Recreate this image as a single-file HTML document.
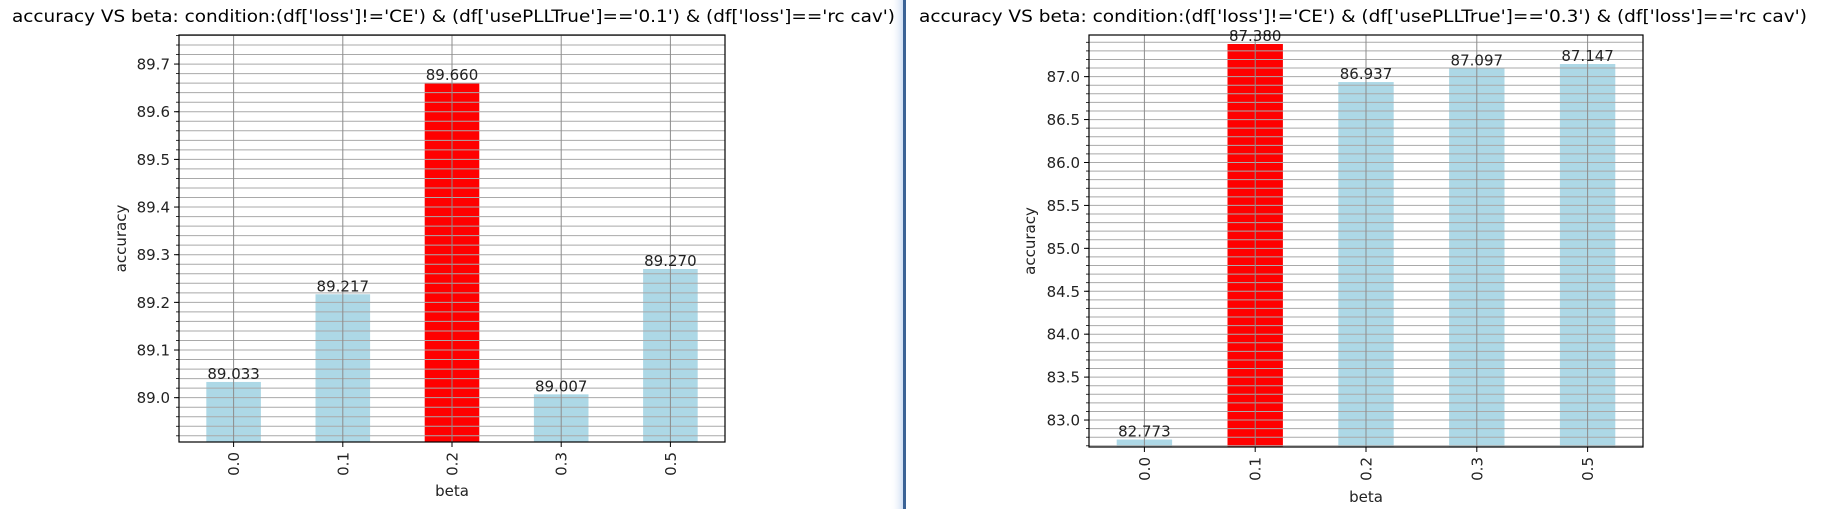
<!DOCTYPE html>
<html><head><meta charset="utf-8">
<style>
html,body{margin:0;padding:0;background:#fff;}
svg{display:block;font-family:"DejaVu Sans","Liberation Sans",sans-serif;}
</style></head>
<body>
<svg id="fig" width="1824" height="509" viewBox="0 0 1824 509" xmlns="http://www.w3.org/2000/svg">
<defs>
<linearGradient id="glow" x1="0" x2="1" y1="0" y2="0">
<stop offset="0" stop-color="#ffffff" stop-opacity="0"/>
<stop offset="1" stop-color="#c9daf2"/>
</linearGradient>
</defs>
<rect x="890" y="0" width="14" height="509" fill="url(#glow)"/>
<rect x="903" y="0" width="3" height="509" fill="#3b6396"/>
</svg>
<script>
const categoriesL = ["0.0","0.1","0.2","0.3","0.5"];
const valuesL = [89.033, 89.217, 89.660, 89.007, 89.270];
const labelsL = ["89.033","89.217","89.660","89.007","89.270"];
const highlightL = 2;
const yTicksL = [89.0, 89.1, 89.2, 89.3, 89.4, 89.5, 89.6, 89.7];
const yTickLabelsL = ["89.0","89.1","89.2","89.3","89.4","89.5","89.6","89.7"];

const categoriesR = ["0.0","0.1","0.2","0.3","0.5"];
const valuesR = [82.773, 87.380, 86.937, 87.097, 87.147];
const labelsR = ["82.773","87.380","86.937","87.097","87.147"];
const highlightR = 1;
const yTicksR = [83.0, 83.5, 84.0, 84.5, 85.0, 85.5, 86.0, 86.5, 87.0];
const yTickLabelsR = ["83.0","83.5","84.0","84.5","85.0","85.5","86.0","86.5","87.0"];

const NS = "http://www.w3.org/2000/svg";
const svg = document.getElementById("fig");
function mk(tag, attrs, parent){
  const e = document.createElementNS(NS, tag);
  for (const k in attrs) e.setAttribute(k, attrs[k]);
  (parent||svg).appendChild(e);
  return e;
}

function drawPanel(cfg){
  const g = mk("g", {});
  
  
  const {x0,x1,y0,y1,ymin,ymax,minor} = cfg;
  const n = cfg.cats.length;
  const xs = i => x0 + (i + 0.5) * (x1 - x0) / n;
  const ys = v => y1 - (v - ymin) / (ymax - ymin) * (y1 - y0);
  const bw = 0.5 * (x1 - x0) / n;
  const FS = 15;

  const t = mk("text", {x: cfg.titleX, y: 22, "font-size": 17, fill: "#000", textLength: cfg.titleW, lengthAdjust: "spacingAndGlyphs"}, g);
  t.textContent = cfg.title;
  
  

  cfg.vals.forEach((v, i) => {
    const top = ys(v);
    const r = mk("rect", {x: xs(i) - bw/2, y: top, width: bw, height: y1 - top, fill: i === cfg.hi ? "#ff0000" : "#add8e6"}, g);
    
    
  });

  const start = Math.ceil(ymin / minor - 1e-6);
  for (let k = start; k * minor <= ymax + 1e-9; k++) {
    const y = ys(k * minor);
    const l = mk("line", {x1: x0, x2: x1, y1: y, y2: y, stroke: "#a9a9a9", "stroke-width": 1}, g);
    
    
    const tk = mk("line", {x1: x0 - 3, x2: x0, y1: y, y2: y, stroke: "#000", "stroke-width": 0.8}, g);
    
    
  }
  cfg.yt.forEach((v, i) => {
    const y = ys(v);
    const tk = mk("line", {x1: x0 - 5, x2: x0, y1: y, y2: y, stroke: "#000", "stroke-width": 1}, g);
    
    
    const tl = mk("text", {x: x0 - 9, y: y + 5.5, "font-size": FS, "text-anchor": "end", fill: "#222"}, g);
    tl.textContent = cfg.ytl[i];
    
    
  });
  cfg.cats.forEach((c, i) => {
    const x = xs(i);
    const l = mk("line", {x1: x, x2: x, y1: y0, y2: y1, stroke: "#8c8c8c", "stroke-width": 1}, g);
    
    
    const tk = mk("line", {x1: x, x2: x, y1: y1, y2: y1 + 5, stroke: "#000", "stroke-width": 1}, g);
    
    
    const tl = mk("text", {x: 0, y: 0, "font-size": FS, "text-anchor": "end", fill: "#222", transform: `translate(${x + 5.5},${y1 + 10}) rotate(-90)`}, g);
    tl.textContent = c;
    
    
  });
  cfg.vals.forEach((v, i) => {
    const tl = mk("text", {x: xs(i), y: ys(v) - 3, "font-size": FS, "text-anchor": "middle", fill: "#222"}, g);
    tl.textContent = cfg.labs[i];
    
    
  });
  const fr = mk("rect", {x: x0, y: y0, width: x1 - x0, height: y1 - y0, fill: "none", stroke: "#000", "stroke-width": 1.2}, g);
  
  
  const yl = mk("text", {x: 0, y: 0, "font-size": FS, "text-anchor": "middle", fill: "#222", transform: `translate(${cfg.ylabX},${(y0 + y1) / 2}) rotate(-90)`}, g);
  yl.textContent = "accuracy";
  
  
  const xl = mk("text", {x: (x0 + x1) / 2, y: cfg.xlabY, "font-size": FS, "text-anchor": "middle", fill: "#222"}, g);
  xl.textContent = "beta";
  
  
}

drawPanel({name: "left-chart", x0: 179, x1: 725, y0: 35, y1: 442, ymin: 88.907, ymax: 89.761, minor: 0.02,
  cats: categoriesL, vals: valuesL, labs: labelsL, hi: highlightL, yt: yTicksL, ytl: yTickLabelsL,
  title: "accuracy VS beta: condition:(df['loss']!='CE') & (df['usePLLTrue']=='0.1') & (df['loss']=='rc cav')",
  titleX: 12, titleW: 883, ylabX: 126, xlabY: 496});
drawPanel({name: "right-chart", x0: 1089, x1: 1643, y0: 35, y1: 447, ymin: 82.686, ymax: 87.485, minor: 0.1,
  cats: categoriesR, vals: valuesR, labs: labelsR, hi: highlightR, yt: yTicksR, ytl: yTickLabelsR,
  title: "accuracy VS beta: condition:(df['loss']!='CE') & (df['usePLLTrue']=='0.3') & (df['loss']=='rc cav')",
  titleX: 919, titleW: 888, ylabX: 1035, xlabY: 502});
</script>
</body></html>
